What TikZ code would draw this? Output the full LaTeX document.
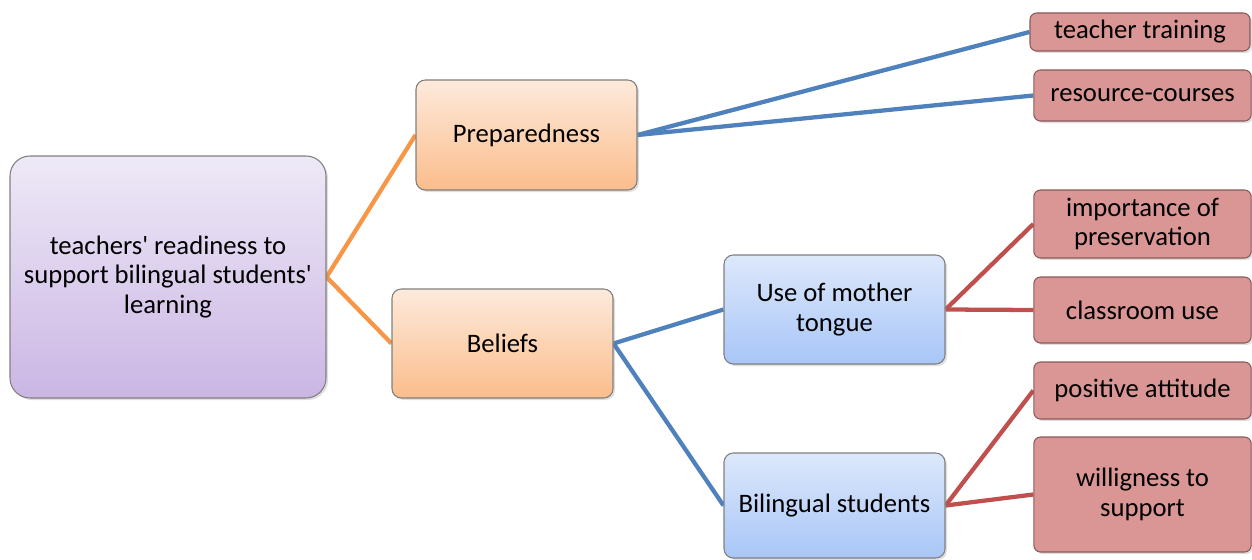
\documentclass[tikz,border=0pt]{standalone}
\usepackage{fontspec}
\setmainfont{Carlito}
\usetikzlibrary{shadows,backgrounds}
\definecolor{lineorange}{HTML}{F79646}
\definecolor{lineblue}{HTML}{4F81BD}
\definecolor{linered}{HTML}{C0504D}
\definecolor{rootT}{HTML}{EEE9F7}
\definecolor{rootB}{HTML}{CBB6E4}
\definecolor{orT}{HTML}{FDEADB}
\definecolor{orB}{HTML}{FBBD8C}
\definecolor{blT}{HTML}{DDE8FB}
\definecolor{blB}{HTML}{A8C6F7}
\definecolor{redF}{HTML}{D99694}
\definecolor{redD}{HTML}{8A5A58}
\newcommand{\aps}{\textquotesingle}
\begin{document}
\begin{tikzpicture}[x=0.75pt,y=-0.75pt,
  box/.style={rounded corners=7pt, draw=black!50, line width=0.8pt, align=center,
    inner sep=1pt, font=\fontsize{20}{22}\selectfont,
    drop shadow={shadow xshift=1.5pt,shadow yshift=-1.5pt,opacity=0.25},
    minimum width=165.75pt, minimum height=82pt},
  rootbox/.style={box, rounded corners=15pt, top color=rootT, bottom color=rootB,
    minimum width=237pt, minimum height=181.5pt},
  orbox/.style={box, top color=orT, bottom color=orB},
  blbox/.style={box, top color=blT, bottom color=blB},
  rdbox/.style={box, fill=redF, draw=redD, minimum width=163pt, rounded corners=5pt},
  conn/.style={line width=3.2pt}]
\useasboundingbox (0,0) rectangle (1252,560);

\node[rootbox] (root) at (168,277) {teachers\aps{} readiness to\\support bilingual students\aps\\learning};
\node[orbox, minimum height=82.5pt] (prep) at (526.5,135) {Preparedness};
\node[orbox, minimum height=81.75pt] (bel) at (502.5,343.5) {Beliefs};
\node[blbox, minimum height=81.75pt] (moth) at (834.5,309.5) {Use of mother\\tongue};
\node[blbox, minimum height=78.75pt] (bil) at (834.5,505.5) {Bilingual students};

\node[rdbox, minimum width=165pt, minimum height=28.5pt] (tt) at (1140,32) {teacher training};
\node[rdbox, minimum height=38.25pt] (rc) at (1142.5,95.5) {resource-courses};
\node[rdbox, minimum height=51pt] (imp) at (1142.5,224) {importance of\\preservation};
\node[rdbox, minimum height=49.5pt] (cu) at (1142.5,310) {classroom use};
\node[rdbox, minimum height=42.75pt] (pa) at (1142.5,390.5) {positive attitude};
\node[rdbox, minimum height=86.25pt] (ws) at (1142.5,494.5) {willigness to\\support};

\begin{scope}[on background layer]
\draw[conn, lineorange] (root.east) -- (prep.west);
\draw[conn, lineorange] (root.east) -- (bel.west);
\draw[conn, lineblue] (prep.east) -- (tt.west);
\draw[conn, lineblue] (prep.east) -- (rc.west);
\draw[conn, lineblue] (bel.east) -- (moth.west);
\draw[conn, lineblue] (bel.east) -- (bil.west);
\draw[conn, linered] (moth.east) -- (imp.west);
\draw[conn, linered] (moth.east) -- (cu.west);
\draw[conn, linered] (bil.east) -- (pa.west);
\draw[conn, linered] (bil.east) -- (ws.west);
\end{scope}
\end{tikzpicture}
\end{document}
